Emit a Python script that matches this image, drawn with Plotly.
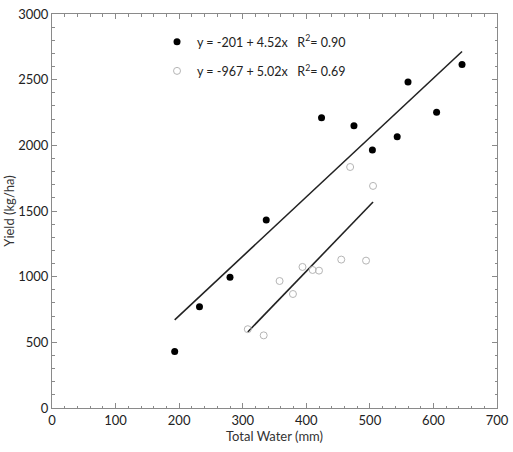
import plotly.graph_objects as go

# Filled series (black dots)
water_a = [193, 232, 280, 337, 424, 475, 504, 543, 560, 605, 645]
yield_a = [430, 770, 995, 1432, 2210, 2150, 1965, 2066, 2483, 2252, 2615]
# Open series (grey circles)
water_b = [308, 333, 358, 379, 394, 410, 420, 455, 469, 494, 505]
yield_b = [600, 553, 967, 868, 1074, 1051, 1046, 1130, 1835, 1122, 1691]

fit_a = (-201, 4.52)
fit_b = (-967, 5.02)
label_a = "y = -201 + 4.52x   R<sup>2</sup>= 0.90"
label_b = "y = -967 + 5.02x   R<sup>2</sup>= 0.69"

x_ticks = [0, 100, 200, 300, 400, 500, 600, 700]
y_ticks = [0, 500, 1000, 1500, 2000, 2500, 3000]

FONT = "Lato, 'Open Sans', sans-serif"

fig = go.Figure()

def fit_line(xs, fit):
    lo, hi = min(xs), max(xs)
    return [lo, hi], [fit[0] + fit[1] * lo, fit[0] + fit[1] * hi]

lx, ly = fit_line(water_a, fit_a)
fig.add_trace(go.Scatter(x=lx, y=ly, mode="lines", line=dict(color="#222222", width=1.6),
                         showlegend=False, hoverinfo="skip"))
lx, ly = fit_line(water_b, fit_b)
fig.add_trace(go.Scatter(x=lx, y=ly, mode="lines", line=dict(color="#222222", width=1.6),
                         showlegend=False, hoverinfo="skip"))

fig.add_trace(go.Scatter(x=water_a, y=yield_a, mode="markers", name=label_a,
                         legendgroup="a",
                         marker=dict(symbol="circle", size=7, color="black",
                                     line=dict(width=0))))
fig.add_trace(go.Scatter(x=water_b, y=yield_b, mode="markers", name=label_b,
                         legendgroup="b",
                         marker=dict(symbol="circle-open", size=7, color="#b5b5b5",
                                     line=dict(width=1))))

axis_common = dict(
    showgrid=False, zeroline=False, showline=True, linecolor="#8a8a8a", linewidth=1,
    mirror="allticks", ticks="inside", ticklen=5, tickcolor="#8a8a8a", tickwidth=1,
    tickfont=dict(family=FONT, size=13, color="#222222"), automargin=False,
)

fig.update_xaxes(range=[0, 700], tickvals=x_ticks, ticktext=[str(v) for v in x_ticks],
                 minor=dict(ticks="inside", ticklen=2.5, tickcolor="#8a8a8a", dtick=20,
                            tick0=0, showgrid=False),
                 title=dict(text="Total Water (mm)", font=dict(family=FONT, size=13, color="#333333"),
                            standoff=4),
                 **axis_common)
fig.update_yaxes(range=[0, 3000], tickvals=y_ticks, ticktext=[str(v) for v in y_ticks],
                 minor=dict(ticks="inside", ticklen=2.5, tickcolor="#8a8a8a", dtick=100,
                            tick0=0, showgrid=False),
                 title=dict(text="Yield (kg/ha)", font=dict(family=FONT, size=13, color="#333333"),
                            standoff=0),
                 **axis_common)

fig.update_layout(
    width=513, height=452,
    margin=dict(l=52, r=16, t=14, b=44, autoexpand=False),
    plot_bgcolor="white", paper_bgcolor="white",
    legend=dict(x=0.236, y=0.967, xanchor="left", yanchor="top",
                bgcolor="rgba(0,0,0,0)", tracegroupgap=10,
                font=dict(family=FONT, size=12.5, color="#222222"),
                itemwidth=30),
)

fig.write_html("out.html")
